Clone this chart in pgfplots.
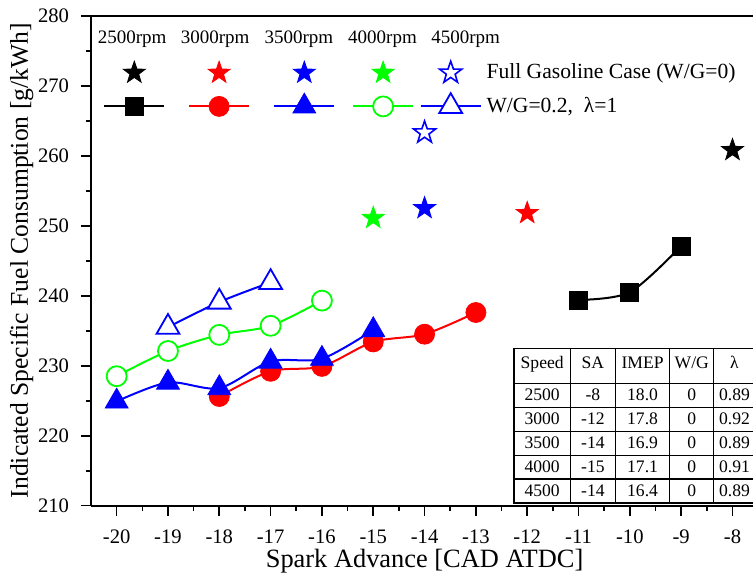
\documentclass[border=0pt]{standalone}
\usepackage{fontspec}
\setmainfont{Liberation Serif}
\usepackage{array}
\usepackage{pgfplots}
\pgfplotsset{compat=1.18}

% filled five-pointed star mark
\pgfdeclareplotmark{fstar}{%
  \pgfpathmoveto{\pgfqpointpolar{90}{\pgfplotmarksize}}%
  \pgfpathlineto{\pgfqpointpolar{126}{0.4\pgfplotmarksize}}%
  \pgfpathlineto{\pgfqpointpolar{162}{\pgfplotmarksize}}%
  \pgfpathlineto{\pgfqpointpolar{198}{0.4\pgfplotmarksize}}%
  \pgfpathlineto{\pgfqpointpolar{234}{\pgfplotmarksize}}%
  \pgfpathlineto{\pgfqpointpolar{270}{0.4\pgfplotmarksize}}%
  \pgfpathlineto{\pgfqpointpolar{306}{\pgfplotmarksize}}%
  \pgfpathlineto{\pgfqpointpolar{342}{0.4\pgfplotmarksize}}%
  \pgfpathlineto{\pgfqpointpolar{18}{\pgfplotmarksize}}%
  \pgfpathlineto{\pgfqpointpolar{54}{0.4\pgfplotmarksize}}%
  \pgfpathclose
  \pgfusepathqfillstroke
}

\begin{document}
\begin{tikzpicture}
\begin{axis}[
  scale only axis, width=331pt, height=245pt,
  xmin=-20.5, xmax=-7.6, ymin=210, ymax=280,
  axis x line*=box, axis y line*=left,
  axis line style={-, line width=0.9pt},
  xtick={-20,-19,...,-8}, ytick={210,220,...,280},
  minor x tick num=1, minor y tick num=1,
  xtick pos=bottom, ytick pos=left,
  tick align=outside,
  major tick length=5pt, minor tick length=2.5pt,
  tick style={line width=0.8pt, black},
  /pgf/number format/assume math mode=true,
  ticklabel style={font=\fontsize{10.3}{12}\selectfont},
  xticklabel style={inner ysep=0.5pt, yshift=-6.4pt},
  yticklabel style={xshift=-2.5pt},
  xlabel={Spark Advance [CAD ATDC]},
  ylabel={Indicated Specific Fuel Consumption [g/kWh]},
  xlabel style={font=\fontsize{13.2}{15}\selectfont, inner sep=0.5pt, at={(axis cs:-14,210)}, anchor=base, yshift=-31pt},
  ylabel style={font=\fontsize{12.8}{14}\selectfont, at={(axis description cs:-0.0952,0.5)}, anchor=base},
  legend columns=5,
  legend image code/.code={\draw[mark repeat=2,mark phase=2] plot coordinates {(0pt,0pt)(15pt,0pt)(30pt,0pt)};},
  legend style={draw=none, fill=none, inner sep=0pt, outer sep=0pt,
    at={(axis cs:-20.26,273.5)}, anchor=north west,
    font=\fontsize{10.8}{12}\selectfont, row sep=4.7pt,
    nodes={inner xsep=0pt, inner ysep=1pt},
    legend cell align=left,
    /tikz/column 2/.style={column sep=10.4pt},
    /tikz/column 4/.style={column sep=10.6pt},
    /tikz/column 6/.style={column sep=7.4pt},
    /tikz/column 8/.style={column sep=1.8pt},
    /tikz/column 9/.style={column sep=2.4pt}},
]
% full gasoline case
\addplot[only marks, mark=fstar, mark size=5.8pt, mark options={draw=black, fill=black, line width=0.4pt}] coordinates {(-8,260.8)};
\addlegendentry{}
\addplot[only marks, mark=fstar, mark size=5.8pt, mark options={draw=red, fill=red, line width=0.4pt}] coordinates {(-12,251.8)};
\addlegendentry{}
\addplot[only marks, mark=fstar, mark size=5.8pt, mark options={draw=blue, fill=blue, line width=0.4pt}] coordinates {(-14,252.5)};
\addlegendentry{}
\addplot[only marks, mark=fstar, mark size=5.8pt, mark options={draw=green, fill=green, line width=0.4pt}] coordinates {(-15,251.1)};
\addlegendentry{}
\addplot[only marks, mark=fstar, mark size=5.8pt, mark options={draw=blue, fill=white, line width=0.8pt}] coordinates {(-14,263.3)};
\addlegendentry{Full Gasoline Case (W/G=0)}
% W/G = 0.2
\addplot[black, line width=1pt, smooth, mark=square*, mark size=4.5pt, mark options={fill=black, line width=0.4pt}]
  coordinates {(-11,239.4) (-10,240.5) (-9,247.1)};
\addlegendentry{}
\addplot[red, line width=1pt, smooth, mark=*, mark size=5pt, mark options={fill=red, line width=0.4pt}]
  coordinates {(-18,225.6) (-17,229.2) (-16,229.9) (-15,233.4) (-14,234.5) (-13,237.6)};
\addlegendentry{}
\addplot[blue, line width=1pt, smooth, mark=triangle*, mark size=6.6pt, mark options={fill=blue, line width=0.4pt}]
  coordinates {(-20,224.9) (-19,227.6) (-18,226.8) (-17,230.6) (-16,231.0) (-15,235.1)};
\addlegendentry{}
\addplot[green, line width=1pt, smooth, mark=*, mark size=5pt, mark options={fill=white, line width=0.9pt}]
  coordinates {(-20,228.5) (-19,232.1) (-18,234.4) (-17,235.7) (-16,239.3)};
\addlegendentry{}
\addplot[blue, line width=1pt, smooth, mark=triangle*, mark size=6.6pt, mark options={fill=white, line width=0.9pt}]
  coordinates {(-19,235.5) (-18,239.1) (-17,241.9)};
\addlegendentry{W/G=0.2,\ \ λ=1}

\begin{scope}[every node/.style={font=\fontsize{9.5}{11}\selectfont}]
\node at (axis cs:-19.70,276.7) {2500rpm};
\node at (axis cs:-18.08,276.7) {3000rpm};
\node at (axis cs:-16.45,276.7) {3500rpm};
\node at (axis cs:-14.82,276.7) {4000rpm};
\node at (axis cs:-13.20,276.7) {4500rpm};
\end{scope}

\node[anchor=north west, inner sep=0pt, font=\fontsize{8.8}{10.5}\selectfont] at (axis cs:-12.275,232.63) {%
  \setlength\tabcolsep{0pt}\setlength\arrayrulewidth{0.6pt}%
  \begin{tabular}{|w{c}{27.5pt}|w{c}{22pt}|w{c}{26.5pt}|w{c}{21.5pt}|w{c}{20pt}|}
  \hline
  \rule[-7pt]{0pt}{17pt}Speed & SA & IMEP & W/G & λ \\ \hline
  \rule[-2.9pt]{0pt}{11.1pt}2500 & -8 & 18.0 & 0 & 0.89 \\ \hline
  \rule[-2.9pt]{0pt}{11.1pt}3000 & -12 & 17.8 & 0 & 0.92 \\ \hline
  \rule[-2.9pt]{0pt}{11.1pt}3500 & -14 & 16.9 & 0 & 0.89 \\ \hline
  \rule[-2.9pt]{0pt}{11.1pt}4000 & -15 & 17.1 & 0 & 0.91 \\ \hline
  \rule[-2.9pt]{0pt}{11.1pt}4500 & -14 & 16.4 & 0 & 0.89 \\ \hline
  \end{tabular}};
\end{axis}
\pgfresetboundingbox
\path[use as bounding box] (-45.5pt,-33.15pt) rectangle (331pt,252.85pt);
\end{tikzpicture}
\end{document}
